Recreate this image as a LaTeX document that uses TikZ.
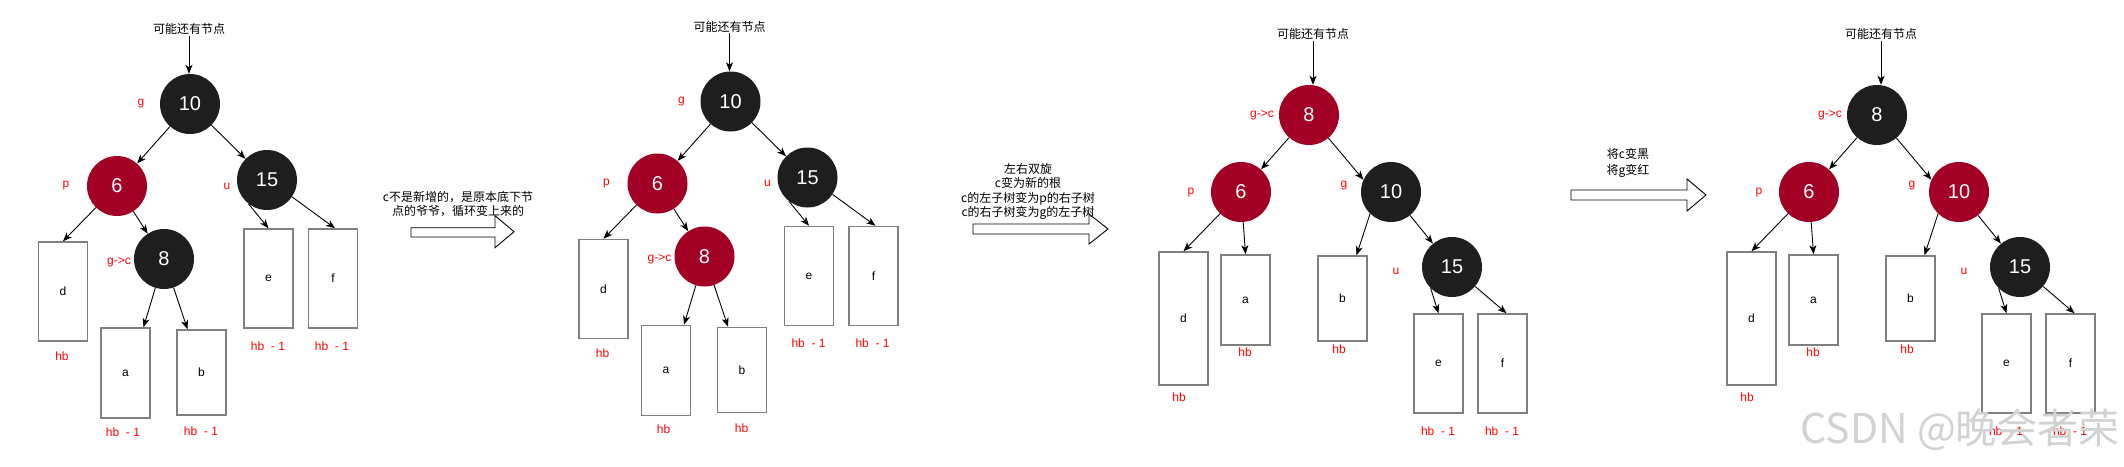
\documentclass[tikz,border=0pt]{standalone}
\usepackage{fontspec}
\setmainfont{Liberation Sans}
\newfontfamily\cjk{Noto Sans CJK SC}
\usetikzlibrary{arrows.meta,calc}
\definecolor{rbred}{HTML}{A20025}
\definecolor{rbblack}{HTML}{1E1E1E}
\definecolor{lblred}{HTML}{FF0000}
\definecolor{boxgray}{HTML}{808080}
\definecolor{wmgray}{HTML}{D2D2D2}
\tikzset{
 rbnode/.style={circle, minimum size=60pt, inner sep=0pt, font=\fontsize{20}{20}\selectfont, text=white},
 rbr/.style={rbnode, fill=rbred},
 rbb/.style={rbnode, fill=rbblack},
 tag/.style={text=lblred, font=\fontsize{12}{14}\selectfont, inner sep=0pt},
 sub/.style={draw=boxgray, line width=1.5pt, fill=white, minimum width=49pt, minimum height=#1, inner sep=0pt, font=\fontsize{12}{14}\selectfont},
 link/.style={-{Stealth[length=9pt,width=7pt,inset=2.5pt]}, line width=0.9pt},
 cn/.style={font=\cjk\fontsize{12}{14.3}\selectfont, align=center, inner sep=1pt},
 bigarrow/.style={draw=black, line width=0.9pt, fill=white, line join=miter},
}
% panels 1 and 2
\newcommand\panelA[4]{%
\begin{scope}[shift={#1}]
 \node[cn] (t) at (189,29) {可能还有节点};
 \node[rbb] (c10) at (190,104) {10};
 \node[rbr] (c6) at (117,186) {6};
 \node[rbb] (c15) at (267,180) {15};
 \node[#2] (c8) at (164,259) {8};
 \node[tag] (lg) at (141,104) {g};
 \node[tag] (lp) at (66,186) {p};
 \node[tag] (lu) at (227,186) {u};
 \node[tag] (lc) at (119,262) {g->c};
 \node[sub=99pt] (d) at (63,291.5) {d};
 \node[sub=90pt] (a) at (125.5,373) {a};
 \node[sub=85pt] (b) at (201.5,372.5) {b};
 \node[sub=99pt] (e) at (268.5,278.5) {e};
 \node[sub=99pt] (f) at (333,278.5) {f};
 \node[tag] (hd) at (62,356) {hb};
 \node[tag] (ha) at (123,432) {#3};
 \node[tag] (hb) at (201,431) {#4};
 \node[tag] (he) at (268,346) {hb\ \ - 1};
 \node[tag] (hf) at (332,346) {hb\ \ - 1};
 \draw[link] (t.south) -- (t.south |- c10.north);
 \draw[link] (c10) -- (c6);
 \draw[link] (c10) -- (c15);
 \draw[link] (c6) -- (d.north);
 \draw[link] (c6) -- (c8);
 \draw[link] (c8) -- ([xshift=18pt]a.north);
 \draw[link] (c8) -- ([xshift=-14pt]b.north);
 \draw[link] (c15.232) -- (e.north);
 \draw[link] (c15.-34) -- ([xshift=2pt]f.north);
\end{scope}}
% panels 3 and 4
\newcommand\panelB[4]{%
\begin{scope}[shift={#1}]
 \node[cn] (t) at (1313,34) {可能还有节点};
 \node[#2] (c8) at (1309,115) {8};
 \node[rbr] (c6) at (1241,192) {6};
 \node[#3] (c10) at (1391,192) {10};
 \node[rbb] (c15) at (1452,267) {15};
 \node[tag] (lc) at (1262,115) {g->c};
 \node[tag] (lp) at (1191,193) {p};
 \node[tag] (lg) at (1344,186) {g};
 \node[tag] (lu) at (1396,271) {u};
 \node[sub=133pt] (d) at (1183.5,318.5) {d};
 \node[sub=90pt] (a) at (1245.5,300) {a};
 \node[sub=85pt] (b) at (1342.5,298.5) {b};
 \node[sub=99pt] (e) at (1438.5,363.5) {e};
 \node[sub=99pt] (f) at (1502.5,363.5) {f};
 \node[tag] (hd) at (1179,397) {hb};
 \node[tag] (ha) at (1245,352) {hb};
 \node[tag] (hb) at (1339,349) {hb};
 \node[tag] (he) at (1438,431) {hb\ \ - 1};
 \node[tag] (hf) at (1502,431) {hb\ \ - 1};
 \draw[link] (t.south) -- (t.south |- c8.north);
 \draw[link] (c8) -- (c6);
 \draw[link] (c8) -- (c10.156);
 \draw[link] (c6) -- (d.north);
 \draw[link] (c6) -- (a.north);
 \draw[link] (c10.226) -- ([xshift=14pt]b.north);
 \draw[link] (c10) -- (c15);
 \draw[link] (c15.225) -- (e.north);
 \draw[link] (c15.-40) -- ([xshift=4pt]f.north);
\end{scope}}
\begin{document}
\begin{tikzpicture}[x=1pt,y=-1pt]
\fill[white] (0,0) rectangle (2124,466);
\useasboundingbox (0,0) rectangle (2124,466);
\panelA{(0,0)}{rbb}{hb\ \ - 1}{hb\ \ - 1}
\begin{scope}[name prefix=P2-]
\panelA{(540.5,-2.5)}{rbr}{hb}{hb}
\end{scope}
\begin{scope}[name prefix=P3-]
\panelB{(0,0)}{rbr}{rbb}{}
\end{scope}
\begin{scope}[name prefix=P4-]
\panelB{(568,0)}{rbb}{rbr}{}
\end{scope}
% block arrows and their notes
\draw[bigarrow] (411,227.7) -- (495,227.7) -- (495,215.7) -- (514,231.7) -- (495,247.7) -- (495,237) -- (411,237) -- cycle;
\node[cn, font=\cjk\fontsize{12}{14}\selectfont] (n1) at (458,204) {c不是新增的，是原本底下节\\点的爷爷，循环变上来的};
\draw[bigarrow] (973,224) -- (1089,224) -- (1089,214) -- (1108,229) -- (1089,244) -- (1089,234) -- (973,234) -- cycle;
\node[cn] (n2) at (1028,191.5) {左右双旋\\c变为新的根\\c的左子树变为p的右子树\\c的右子树变为g的左子树};
\draw[bigarrow] (1571,190) -- (1687,190) -- (1687,179) -- (1706,195) -- (1687,211) -- (1687,200) -- (1571,200) -- cycle;
\node[cn, font=\cjk\fontsize{12}{16}\selectfont] (n3) at (1628,163) {将c变黑\\将g变红};
\node[anchor=east, text=wmgray, font=\cjk\fontsize{41}{41}\selectfont, inner sep=0pt] (wm) at (2120,430) {CSDN @晚会者荣};
\end{tikzpicture}
\end{document}
